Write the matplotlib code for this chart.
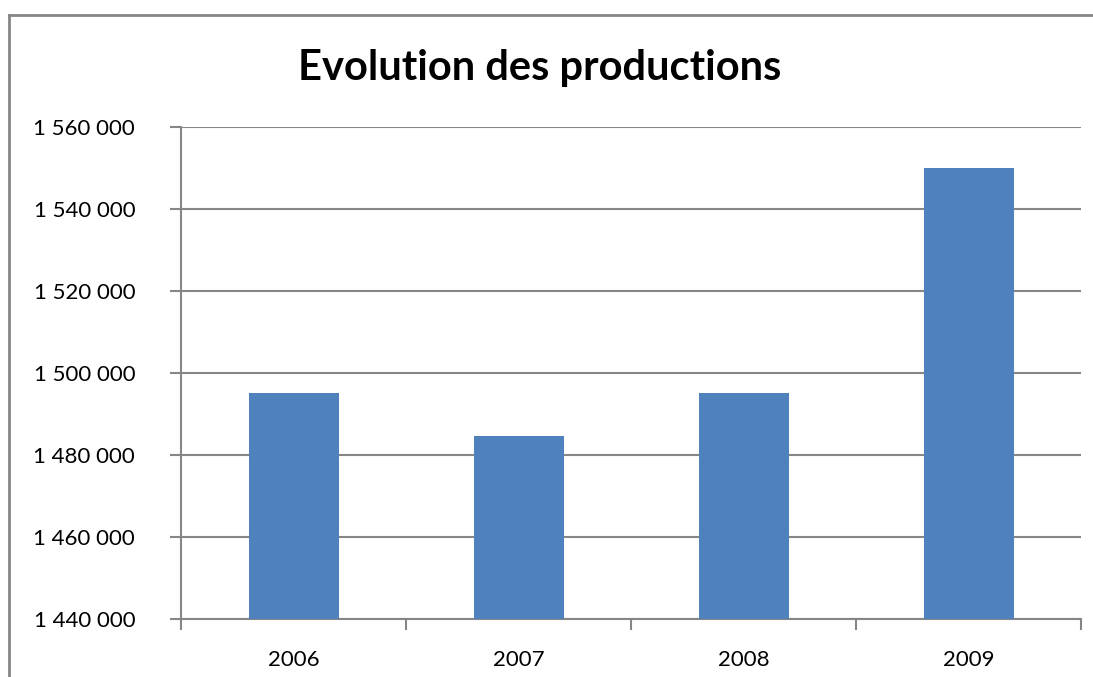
import matplotlib
matplotlib.use("Agg")
from matplotlib import pyplot as plt
from matplotlib.lines import Line2D
from matplotlib.ticker import FuncFormatter, FixedLocator

years = ["2006", "2007", "2008", "2009"]
productions = [1495000, 1484600, 1495000, 1550000]

plt.rcParams['font.family'] = ['Lato', 'DejaVu Sans']

fig = plt.figure(figsize=(10.93, 6.77), dpi=100)
ax = fig.add_axes([181 / 1093, 1 - 619 / 677, 900 / 1093, 492 / 677])

grey = "#868686"
x = range(len(years))
ax.bar(x, productions, width=0.4, color="#4f81bd", zorder=3)

ax.set_ylim(1440000, 1560000)
ax.set_xlim(-0.5, len(years) - 0.5)
ax.set_yticks(range(1440000, 1560001, 20000))
ax.yaxis.set_major_formatter(FuncFormatter(lambda v, p: f"{v:,.0f}".replace(",", " ")))
ax.grid(axis="y", color=grey, linewidth=1.5, zorder=0)

ax.set_xticks(list(x))
ax.set_xticklabels(years)
ax.xaxis.set_minor_locator(FixedLocator([i - 0.5 for i in range(len(years) + 1)]))
ax.tick_params(axis="x", which="major", length=0, pad=22, labelsize=16)
ax.tick_params(axis="x", which="minor", length=8, width=1.5, color=grey)
ax.tick_params(axis="y", length=8, width=1.5, color=grey, pad=25, labelsize=16)

for side in ["top", "right"]:
    ax.spines[side].set_visible(False)
for side in ["left", "bottom"]:
    ax.spines[side].set_color(grey)
    ax.spines[side].set_linewidth(1.5)

fig.text(540 / 1093, 1 - 68 / 677, "Evolution des productions",
         ha="center", va="center", fontsize=30, fontweight="bold")

# outer chart border (only left and top are inside the picture)
bx, by = 9 / 1093, 1 - 15 / 677
fig.add_artist(Line2D([bx, bx], [0, by], transform=fig.transFigure, color=grey, linewidth=2))
fig.add_artist(Line2D([bx, 1], [by, by], transform=fig.transFigure, color=grey, linewidth=2))

fig.savefig("out.png", dpi=100)
